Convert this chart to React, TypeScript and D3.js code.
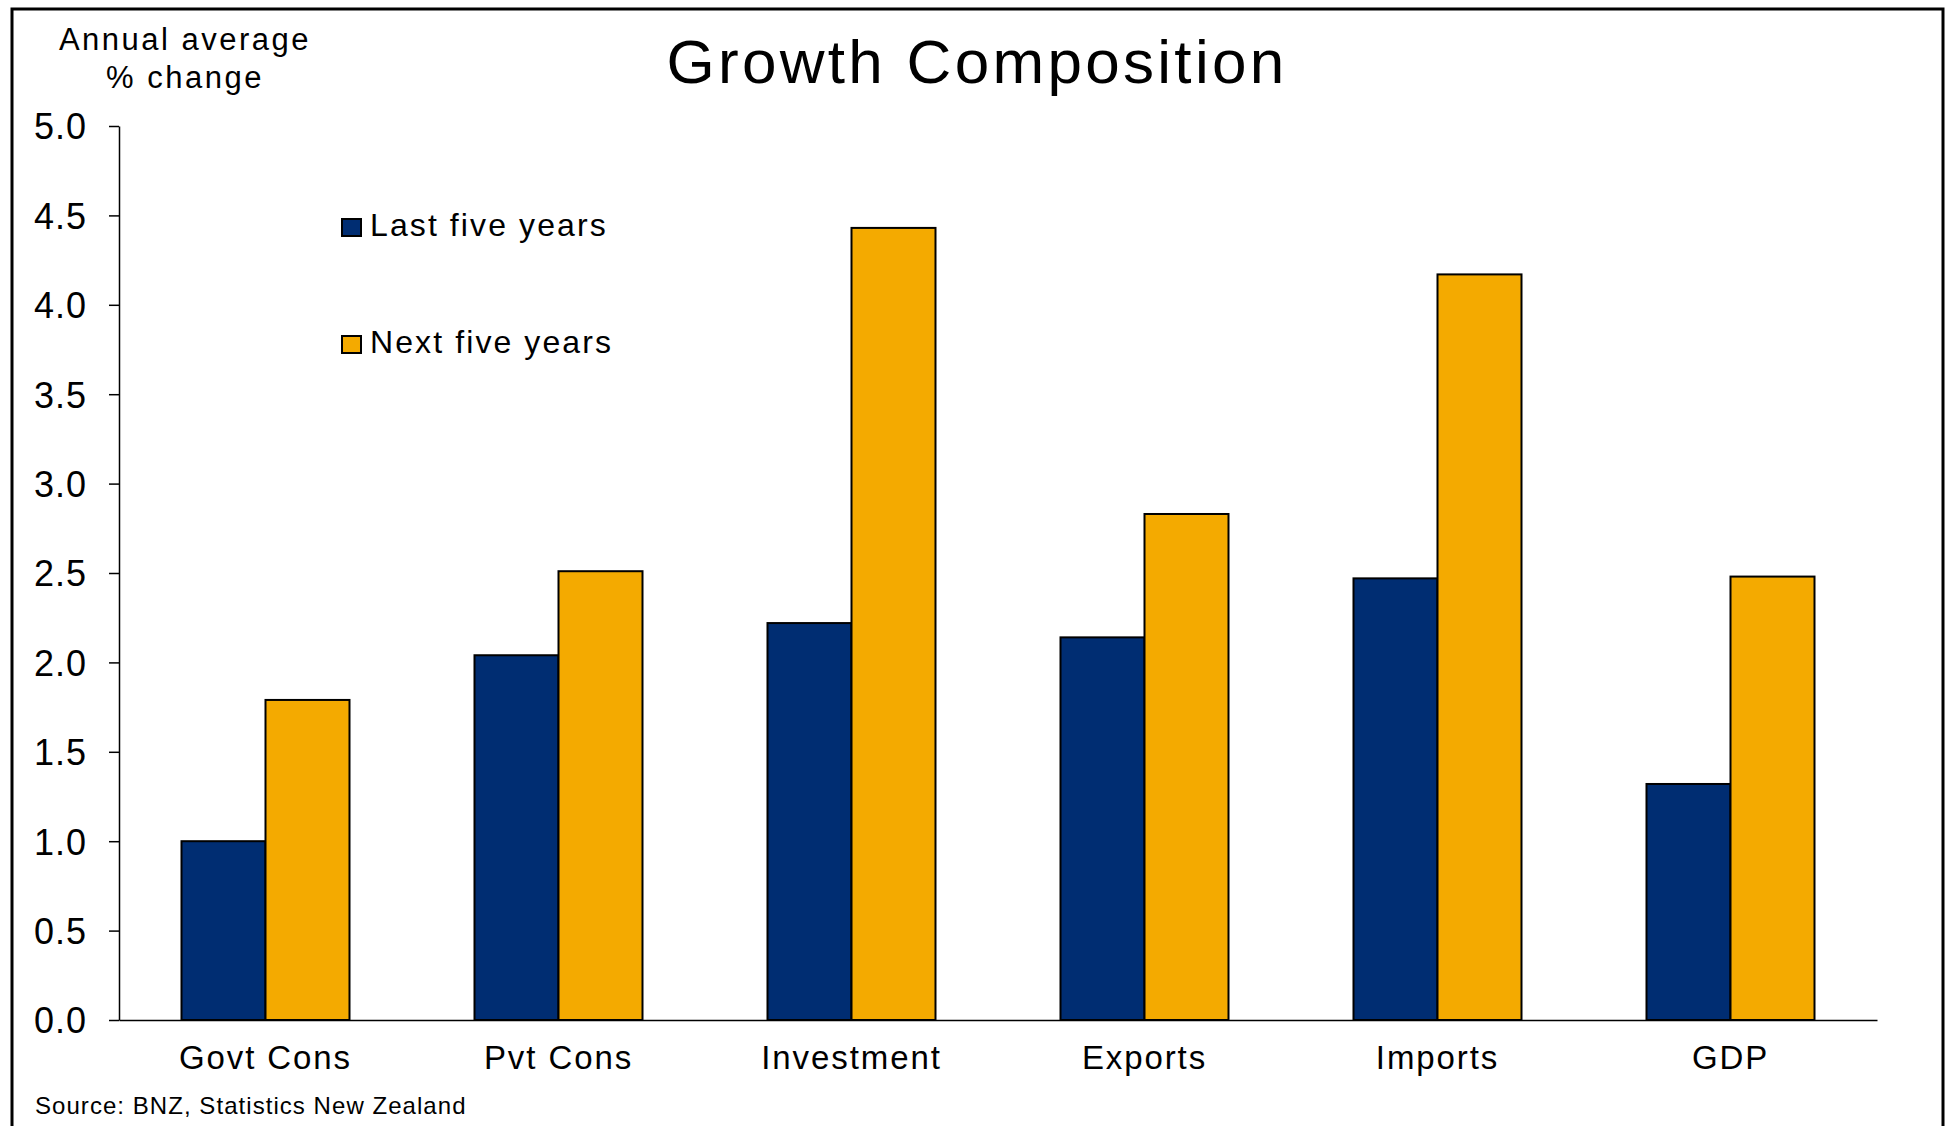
import { useEffect, useRef } from "react";
import * as d3 from "d3";

const CATEGORIES = ["Govt Cons", "Pvt Cons", "Investment", "Exports", "Imports", "GDP"];
const SERIES = ["Last five years", "Next five years"];
const LAST_FIVE = [1.0, 2.04, 2.22, 2.14, 2.47, 1.32];
const NEXT_FIVE = [1.79, 2.51, 4.43, 2.83, 4.17, 2.48];
const Y_TICKS = [0, 0.5, 1, 1.5, 2, 2.5, 3, 3.5, 4, 4.5, 5];
const COLORS = ["#002D72", "#F4AA00"];

const W = 1945;
const H = 1126;
const FONT = "'Liberation Sans', Arial, Helvetica, sans-serif";

export default function App() {
  const ref = useRef<SVGSVGElement | null>(null);

  useEffect(() => {
    const svg = d3.select(ref.current);
    svg.selectAll("*").remove();

    const m = { top: 126, right: W - 1877, bottom: H - 1020, left: 119 };

    const x0 = d3.scaleBand<string>().domain(CATEGORIES).range([m.left, W - m.right]).padding(0);
    const x1 = d3.scaleBand<string>().domain(SERIES).range([0, x0.bandwidth()]).paddingInner(0).paddingOuter(0.744);
    const y = d3.scaleLinear().domain([0, 5]).range([H - m.bottom, m.top]);

    // outer frame
    svg.append("rect")
      .attr("x", 12).attr("y", 9)
      .attr("width", 1931).attr("height", 1130)
      .attr("fill", "#fff").attr("stroke", "#000").attr("stroke-width", 3);

    const g = svg.append("g");

    // bars
    const rows = CATEGORIES.map((c, i) => ({ c, vals: [LAST_FIVE[i], NEXT_FIVE[i]] }));
    rows.forEach((r) => {
      r.vals.forEach((v, j) => {
        g.append("rect")
          .attr("x", x0(r.c)! + x1(SERIES[j])!)
          .attr("y", y(v))
          .attr("width", x1.bandwidth())
          .attr("height", y(0) - y(v))
          .attr("fill", COLORS[j])
          .attr("stroke", "#000")
          .attr("stroke-width", 2);
      });
    });

    // y axis
    g.append("g")
      .attr("transform", `translate(${m.left},0)`)
      .call(d3.axisLeft(y).tickValues(Y_TICKS).tickSize(10).tickSizeOuter(0).tickPadding(22).tickFormat(d3.format(".1f") as never))
      .call((s) => s.select(".domain").attr("stroke", "#000").attr("stroke-width", 1.5))
      .call((s) => s.selectAll("line").attr("stroke", "#000").attr("stroke-width", 1.5))
      .call((s) => s.selectAll("text").attr("fill", "#000").attr("font-family", FONT).attr("font-size", 36).attr("letter-spacing", 1).attr("dy", "0.36em"));

    // x axis
    g.append("g")
      .attr("transform", `translate(0,${y(0)})`)
      .call(d3.axisBottom(x0).tickSize(0).tickSizeOuter(0))
      .call((s) => s.select(".domain").attr("stroke", "#000").attr("stroke-width", 1.5))
      .call((s) => s.selectAll("text").attr("fill", "#000").attr("font-family", FONT).attr("font-size", 33).attr("letter-spacing", 1.9).attr("y", 49).attr("dy", 0));

    // legend
    SERIES.forEach((sname, j) => {
      const by = 236 + j * 117;
      svg.append("rect")
        .attr("x", 342).attr("y", by - 17)
        .attr("width", 19).attr("height", 17)
        .attr("fill", COLORS[j]).attr("stroke", "#000").attr("stroke-width", 2);
      svg.append("text")
        .attr("x", 370).attr("y", by)
        .attr("font-family", FONT).attr("font-size", 32).attr("letter-spacing", 2.1)
        .text(sname);
    });

    // title
    svg.append("text")
      .attr("x", 977).attr("y", 83)
      .attr("text-anchor", "middle")
      .attr("font-family", FONT).attr("font-size", 62).attr("letter-spacing", 3.3)
      .text("Growth Composition");

    // y label
    [["Annual average", 50], ["% change", 88]].forEach(([t, by]) => {
      svg.append("text")
        .attr("x", 185).attr("y", by as number)
        .attr("text-anchor", "middle")
        .attr("font-family", FONT).attr("font-size", 31).attr("letter-spacing", 2.5)
        .text(t as string);
    });

    // source
    svg.append("text")
      .attr("x", 35).attr("y", 1114)
      .attr("font-family", FONT).attr("font-size", 24).attr("letter-spacing", 1.05)
      .text("Source: BNZ, Statistics New Zealand");
  }, []);

  return (
    <svg
      ref={ref}
      width={W}
      height={H}
      style={{ position: "absolute", left: 0, top: 0, display: "block", background: "#fff" }}
    />
  );
}
